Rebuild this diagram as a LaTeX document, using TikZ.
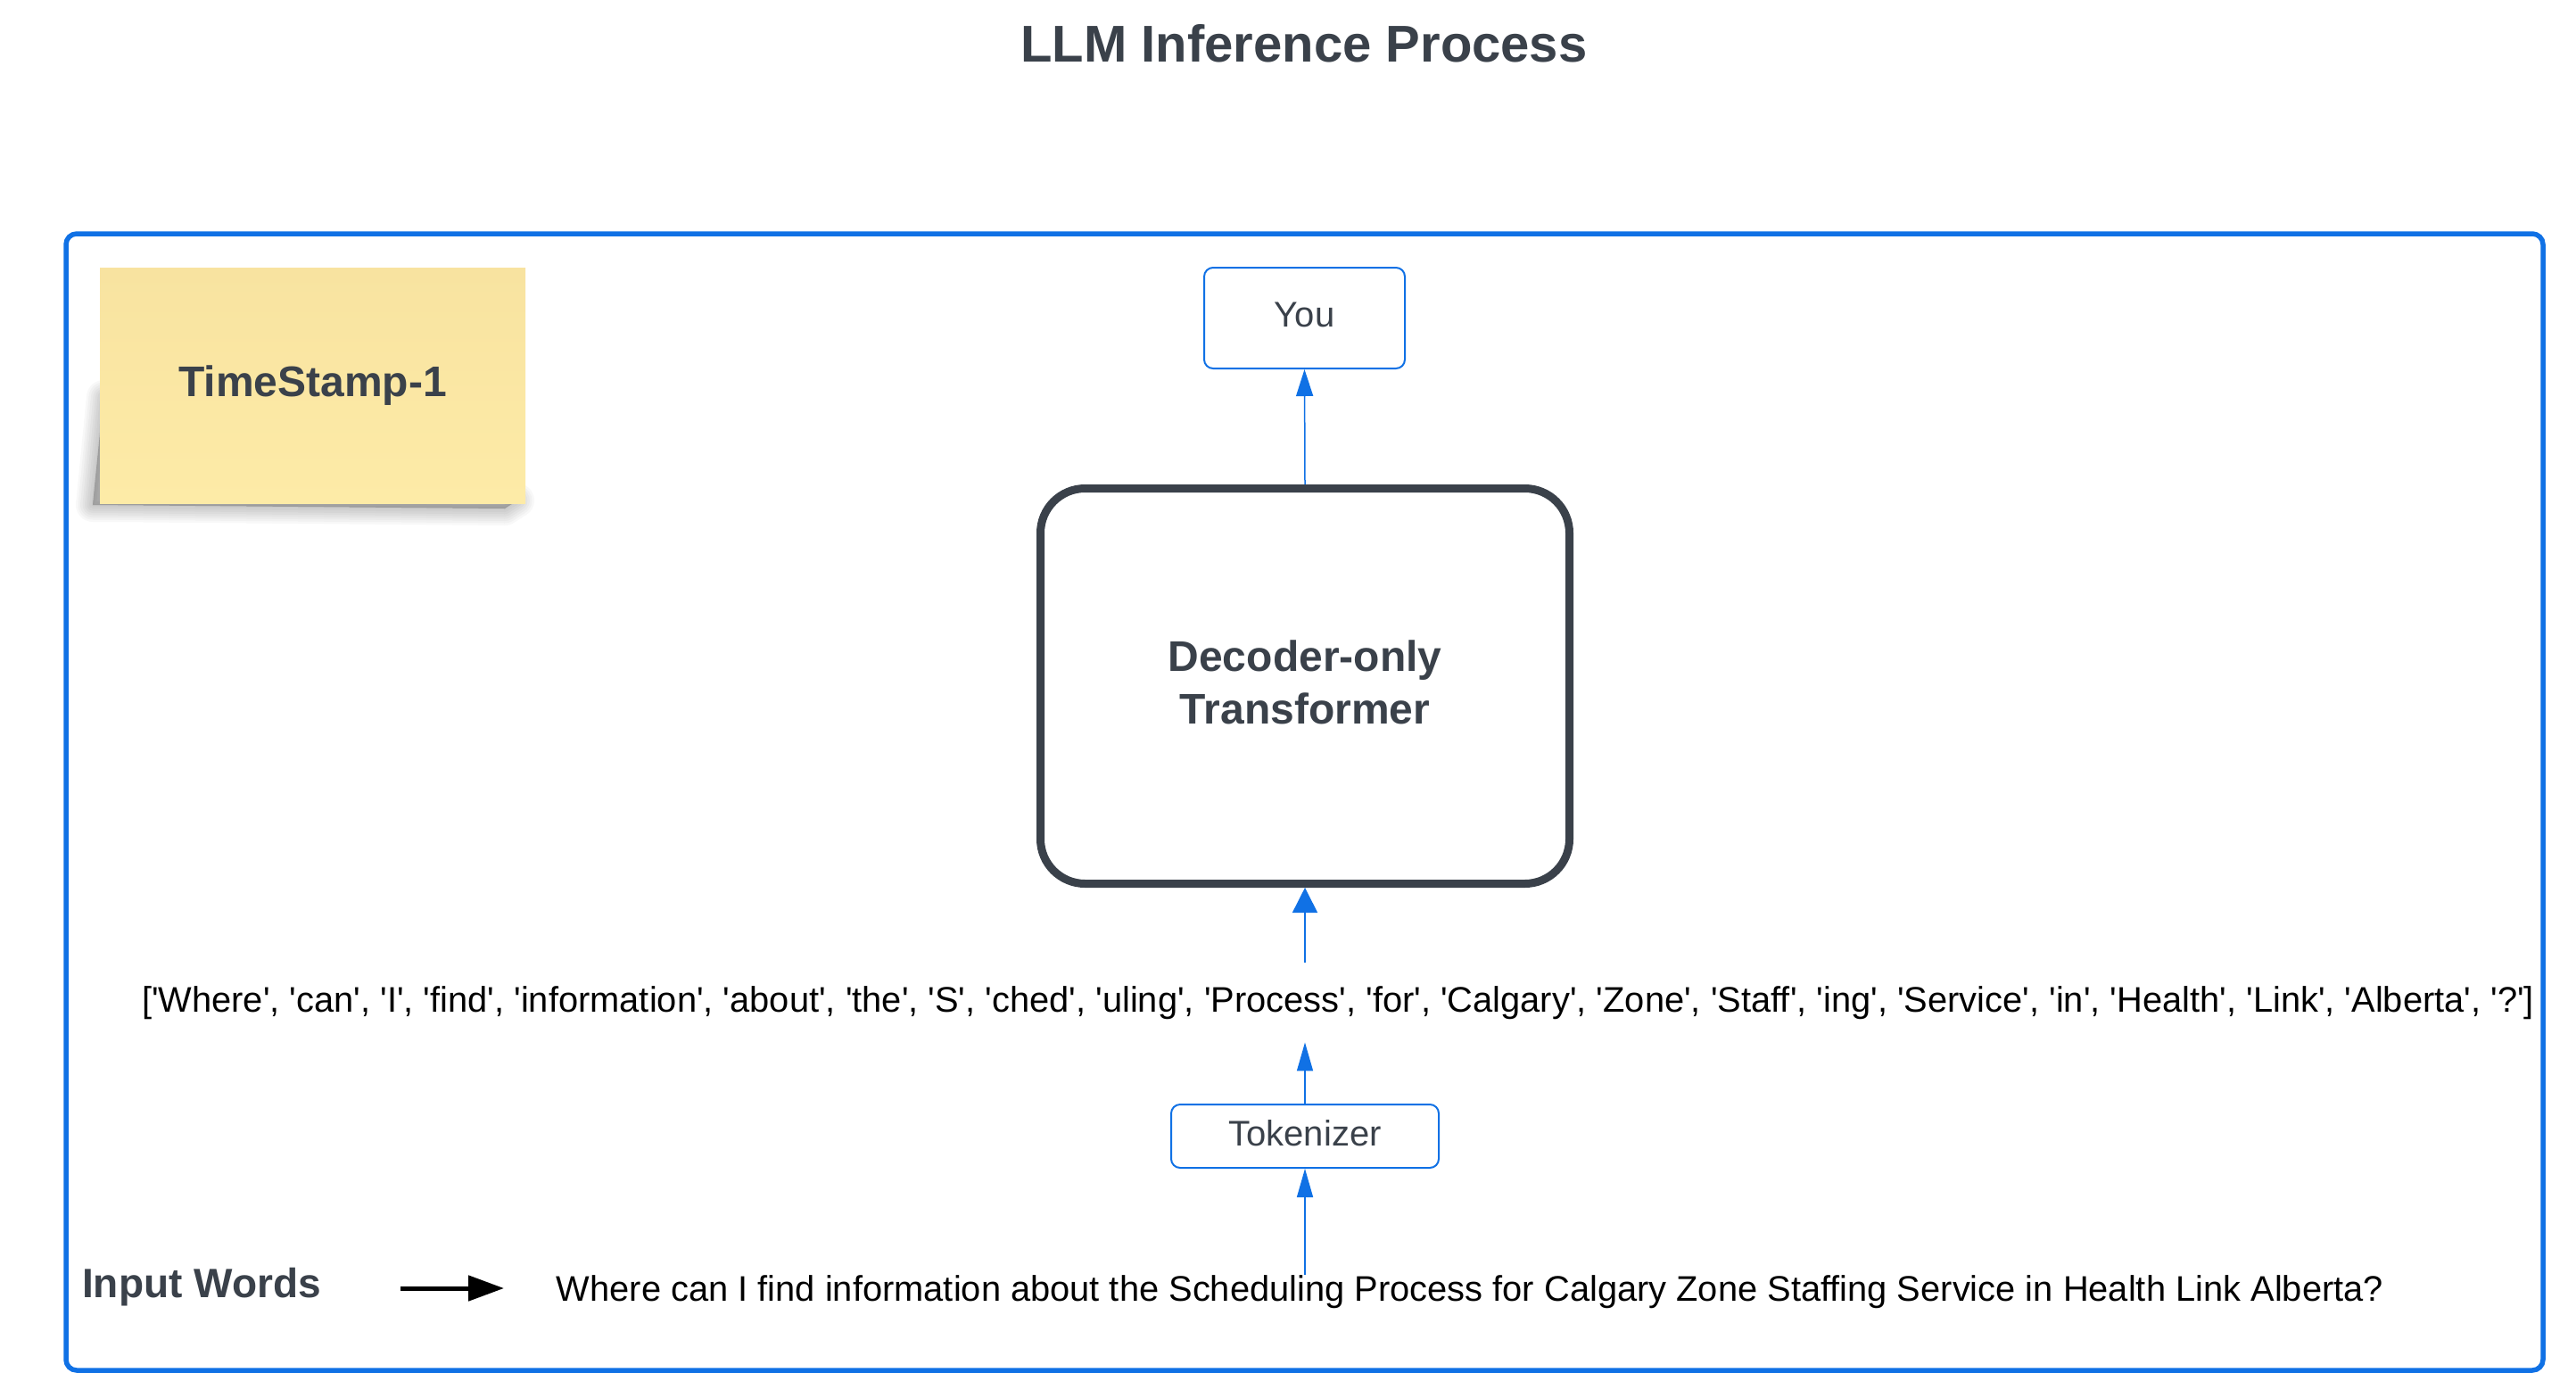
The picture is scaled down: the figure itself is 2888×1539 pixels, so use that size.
\documentclass[tikz,border=0pt]{standalone}
\usepackage{fontspec}
\setmainfont{Liberation Sans}[Ligatures=TeXOff]
\usetikzlibrary{arrows.meta}
\definecolor{myblue}{HTML}{1071E5}
\definecolor{slate}{HTML}{3A414A}
\definecolor{stickytop}{HTML}{F8E3A0}
\definecolor{stickybot}{HTML}{FDEBA7}
\begin{document}
\begin{tikzpicture}[x=1pt,y=-1pt,
  plaintext/.style={font=\fontsize{39.85}{48}\selectfont, text=black, inner xsep=0pt},
  boxtext/.style={font=\fontsize{40}{48}\selectfont, text=slate, text depth=8pt},
  bluebox/.style={draw=myblue, line width=2pt, rounded corners=10pt, fill=white, boxtext},
  framebox/.style={draw=myblue, line width=5.5pt, rounded corners=12pt},
  decbox/.style={draw=slate, line width=9pt, rounded corners=50pt, fill=white},
  dectext/.style={font=\bfseries\fontsize{48}{59}\selectfont, text=slate, align=center},
  stickynote/.style={top color=stickytop, bottom color=stickybot, draw=none,
    font=\bfseries\fontsize{48}{58}\selectfont, text=slate},
  shadowlayer/.style={draw=black, fill=black, opacity=0.026, line join=round},
  barrow/.style={draw=myblue, line width=1.5pt, -{Triangle[length=30pt,width=19pt]}},
  karrow/.style={draw=black, line width=5pt, -{Triangle[length=40pt,width=28pt]}}
]
\useasboundingbox (0,0) rectangle (2888,1539);
\fill[white] (0,0) rectangle (2888,1539);

\node[anchor=base, font=\bfseries\fontsize{58}{70}\selectfont, text=slate] (title) at (1462,69) {LLM Inference Process};

\node[framebox, minimum width=2777pt, minimum height=1274pt] (frame) at (1462.5,899) {};

% sticky note with its soft shadow
\foreach \w in {3,8,13,18,23,28,33,38}
  \filldraw[shadowlayer, line width=\w pt] (116,445) -- (104,566) -- (566,570) -- (580,561) -- (116,556) -- cycle;
\node[stickynote, minimum width=477pt, minimum height=264pt] (ts) at (350.5,432) {TimeStamp-1};

\node[bluebox, minimum width=225pt, minimum height=113pt] (you) at (1462.5,356.5) {You};
\node[decbox, minimum width=593pt, minimum height=443pt] (dec) at (1463,769) {};
\node[dectext] (declab) at ([yshift=4pt]dec.center) {Decoder-only\\Transformer};
\node[bluebox, minimum width=300pt, minimum height=71pt] (tok) at (1463,1273.5) {Tokenizer};

\node[plaintext, anchor=base, inner ysep=26pt] (tokens) at (1500,1134) {['Where', 'can', 'I', 'find', 'information', 'about', 'the', 'S', 'ched', 'uling', 'Process', 'for', 'Calgary', 'Zone', 'Staff', 'ing', 'Service', 'in', 'Health', 'Link', 'Alberta', '?']};

\node[plaintext, anchor=base, inner ysep=0pt] (sent) at (1648,1458) {Where can I find information about the Scheduling Process for Calgary Zone Staffing Service in Health Link Alberta?};

\node[anchor=base west, inner sep=0pt, font=\bfseries\fontsize{46}{55}\selectfont, text=slate] (iw) at (92,1454) {Input Words};

\coordinate (ka) at (449,1444);
\coordinate (kb) at (565,1444);
\draw[karrow] (ka) -- (kb);

\draw[barrow] (dec.north) -- (you.south);
\draw[barrow, -{Triangle[length=28pt,width=28pt]}] (tokens.north -| dec.south) -- (dec.south);
\draw[barrow, -{Triangle[length=32pt,width=18pt]}] (tok.north) -- (tokens.south -| tok.north);
\draw[barrow, -{Triangle[length=32pt,width=18pt]}] (sent.north -| tok.south) -- (tok.south);
\end{tikzpicture}
\end{document}
